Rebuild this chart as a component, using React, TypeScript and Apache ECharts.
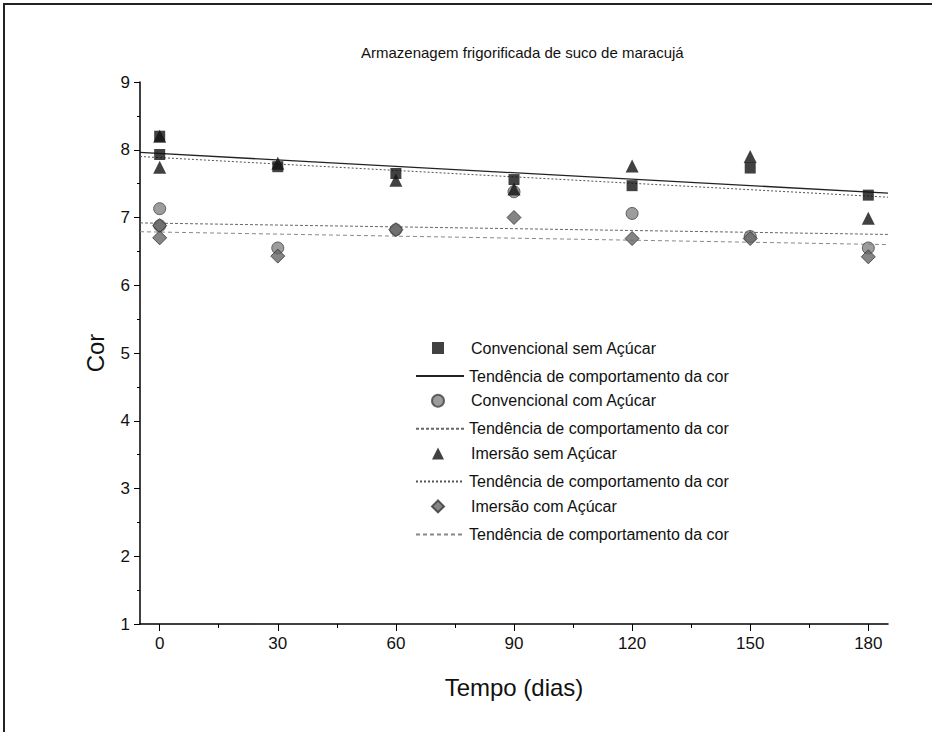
import React, { useEffect, useRef } from "react";
import * as echarts from "echarts";

const TITLE = "Armazenagem frigorificada de suco de maracujá";
const X_NAME = "Tempo (dias)";
const Y_NAME = "Cor";
const TREND_LABEL = "Tendência de comportamento da cor";

const xTicks = [0, 30, 60, 90, 120, 150, 180];
const xMinorTicks = [15, 45, 75, 105, 135, 165];

const markerNames = [
  "Convencional sem Açúcar",
  "Convencional com Açúcar",
  "Imersão sem Açúcar",
  "Imersão com Açúcar",
];
const trendNames = ["trend1", "trend2", "trend3", "trend4"];

// [dias, cor]
const convSemAcucar = [
  [0, 8.2], [0, 7.93], [30, 7.75], [60, 7.65], [90, 7.56], [120, 7.47], [150, 7.73], [180, 7.33],
];
const convComAcucar = [
  [0, 7.13], [0, 6.88], [30, 6.55], [60, 6.82], [90, 7.38], [120, 7.06], [150, 6.72], [180, 6.55],
];
const imerSemAcucar = [
  [0, 8.2], [0, 7.74], [30, 7.8], [60, 7.55], [90, 7.42], [120, 7.76], [150, 7.9], [180, 6.99],
];
const imerComAcucar = [
  [0, 6.88], [0, 6.7], [30, 6.43], [60, 6.82], [90, 7.0], [120, 6.69], [150, 6.69], [180, 6.42],
];

// trend lines (read endpoints)
const trendConvSem = [[-5, 7.96], [185, 7.36]];
const trendConvCom = [[-5, 6.92], [185, 6.75]];
const trendImerSem = [[-5, 7.9], [185, 7.3]];
const trendImerCom = [[-5, 6.79], [185, 6.6]];

const FONT = "'Liberation Sans', Arial, sans-serif";

export default function App() {
  const ref = useRef<HTMLDivElement>(null);
  useEffect(() => {
    if (!ref.current) return;
    const chart = echarts.init(ref.current, undefined, { renderer: "svg" });
    const hiddenSymbol = { color: "rgba(0,0,0,0)", opacity: 0, borderWidth: 0 };
    const option: any = {
      animation: false,
      backgroundColor: "#ffffff",
      textStyle: { fontFamily: FONT, color: "#000" },
      title: {
        text: TITLE,
        left: 356,
        top: 40,
        textStyle: { fontFamily: FONT, fontSize: 15, fontWeight: "normal", color: "#111" },
      },
      grid: { left: 140, right: 44, top: 82, bottom: 108 },
      xAxis: [
        {
          type: "value",
          min: -5,
          max: 185,
          name: X_NAME,
          nameLocation: "middle",
          nameGap: 51,
          nameTextStyle: { fontFamily: FONT, fontSize: 24, color: "#111" },
          axisLine: { show: true, onZero: false, lineStyle: { color: "#000", width: 1.5 } },
          axisTick: { show: true, length: 7, customValues: xTicks, lineStyle: { color: "#000" } },
          axisLabel: { customValues: xTicks, margin: 11, fontSize: 17, color: "#111", fontFamily: FONT },
          splitLine: { show: false },
        },
        {
          type: "value",
          min: -5,
          max: 185,
          position: "bottom",
          axisLine: { show: false },
          axisTick: { show: true, length: 4, customValues: xMinorTicks, lineStyle: { color: "#000" } },
          axisLabel: { show: false },
          splitLine: { show: false },
        },
      ],
      yAxis: {
        type: "value",
        min: 1,
        max: 9,
        interval: 1,
        name: Y_NAME,
        nameLocation: "middle",
        nameGap: 33,
        nameTextStyle: { fontFamily: FONT, fontSize: 24, color: "#111" },
        axisLine: { show: true, onZero: false, lineStyle: { color: "#000", width: 1.5 } },
        axisTick: { show: true, length: 6, lineStyle: { color: "#000" } },
        minorTick: { show: true, splitNumber: 2, length: 3, lineStyle: { color: "#000" } },
        axisLabel: { margin: 10, fontSize: 17, color: "#111", fontFamily: FONT },
        splitLine: { show: false },
      },
      legend: [
        {
          orient: "vertical",
          left: 426,
          top: 335,
          itemWidth: 12,
          itemHeight: 12,
          itemGap: 36.8,
          textStyle: { fontFamily: FONT, fontSize: 16, color: "#111", padding: [0, 0, 0, 22] },
          data: markerNames,
        },
        {
          orient: "vertical",
          left: 410,
          top: 363,
          itemWidth: 48,
          itemHeight: 11,
          itemGap: 36.8,
          textStyle: { fontFamily: FONT, fontSize: 16, color: "#111" },
          formatter: () => TREND_LABEL,
          data: trendNames.map((n) => ({ name: n, itemStyle: hiddenSymbol })),
        },
      ],
      series: [
        {
          name: markerNames[0],
          type: "scatter",
          symbol: "rect",
          symbolSize: 11,
          itemStyle: { color: "#111" },
          data: convSemAcucar,
          z: 3,
        },
        {
          name: trendNames[0],
          type: "line",
          symbol: "none",
          data: trendConvSem,
          lineStyle: { color: "#222", width: 1.3, type: "solid" },
          itemStyle: { color: "#222" },
          z: 2,
        },
        {
          name: markerNames[1],
          type: "scatter",
          symbol: "circle",
          symbolSize: 12,
          itemStyle: { color: "#858585", borderColor: "#444", borderWidth: 1 },
          data: convComAcucar,
          z: 3,
        },
        {
          name: trendNames[1],
          type: "line",
          symbol: "none",
          data: trendConvCom,
          lineStyle: { color: "#666", width: 1, type: [3, 2] },
          itemStyle: { color: "#666" },
          z: 2,
        },
        {
          name: markerNames[2],
          type: "scatter",
          symbol: "triangle",
          symbolSize: 13,
          itemStyle: { color: "#111" },
          data: imerSemAcucar,
          z: 3,
        },
        {
          name: trendNames[2],
          type: "line",
          symbol: "none",
          data: trendImerSem,
          lineStyle: { color: "#555", width: 1, type: [2, 2] },
          itemStyle: { color: "#555" },
          z: 2,
        },
        {
          name: markerNames[3],
          type: "scatter",
          symbol: "diamond",
          symbolSize: 14,
          itemStyle: { color: "#666", borderColor: "#333", borderWidth: 1 },
          data: imerComAcucar,
          z: 3,
        },
        {
          name: trendNames[3],
          type: "line",
          symbol: "none",
          data: trendImerCom,
          lineStyle: { color: "#888", width: 1, type: [4, 3] },
          itemStyle: { color: "#888" },
          z: 2,
        },
      ],
      graphic: [
        { type: "line", shape: { x1: 4, y1: 3, x2: 4, y2: 732 }, style: { stroke: "#222", lineWidth: 2 } },
        { type: "line", shape: { x1: 3, y1: 4, x2: 932, y2: 4 }, style: { stroke: "#222", lineWidth: 2 } },
      ],
    };
    chart.setOption(option);
    return () => chart.dispose();
  }, []);
  return (
    <div
      ref={ref}
      style={{ position: "absolute", left: 0, top: 0, width: 932, height: 732, background: "#fff" }}
    />
  );
}
